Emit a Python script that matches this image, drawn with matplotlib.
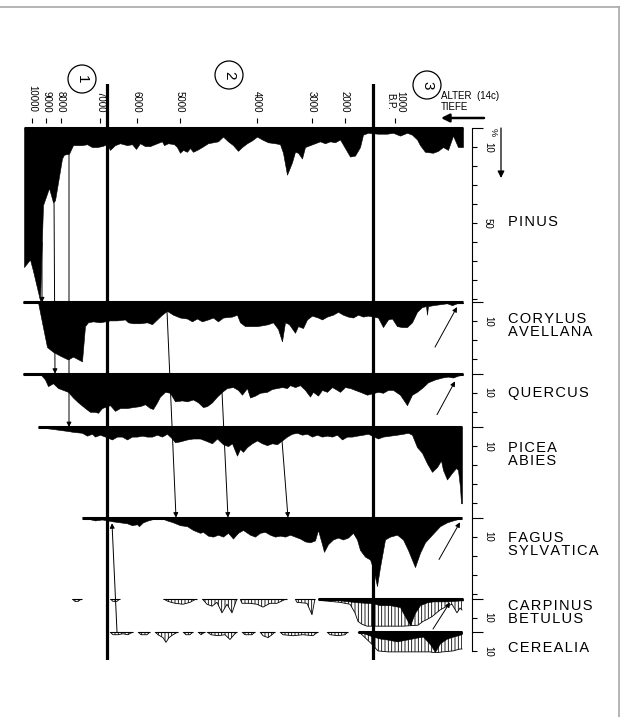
"""Pollendiagramm (Zonen 1-3) mit Tiefe/Alter als x-Achse nachzeichnen."""

import matplotlib

matplotlib.use("Agg")
import matplotlib.pyplot as plt  # noqa: E402
import numpy as np  # noqa: E402
from matplotlib.lines import Line2D  # noqa: E402
from matplotlib.patches import Circle, ConnectionPatch  # noqa: E402
from matplotlib.transforms import IdentityTransform  # noqa: E402

# --- Daten: Tiefe (cm, nach links zunehmend) und Anteil in % ---
pinus_depth = [439, 433, 430, 423, 420, 414, 410, 408, 401, 399, 394, 390, 381, 376, 371, 366,
               361, 356, 353, 348, 343, 336, 331, 327, 323, 318, 313, 306, 301, 299, 295, 289,
               286, 283, 280, 276, 273, 270, 266, 261, 255, 250, 245, 240, 235, 230, 225, 221,
               216, 211, 206, 201, 195, 188, 183, 180, 176, 171, 168, 165, 161, 158, 153, 148,
               143, 138, 133, 128, 123, 118, 113, 108, 103, 100, 95, 85, 76, 70, 63, 56, 51,
               46, 43, 38, 30, 25, 20, 15, 10, 5, 0]
pinus_pct = [73, 69, 75, 90.5, 40.5, 31.5, 39, 38, 16, 14, 13.5, 9, 9, 8.5, 10, 10,
             9.5, 8.5, 11.5, 9, 8, 9, 8.5, 11, 8, 9.5, 9.5, 8, 7, 9, 8, 8.5,
             10, 13, 11.5, 12.5, 10.5, 12.5, 11.5, 10, 8, 7.5, 7, 4.5, 7, 9, 12, 10,
             8, 6.5, 4.5, 6, 7.5, 8, 8.5, 13, 24.5, 18, 12.5, 13, 16, 10, 9, 8,
             7, 8, 7, 7.5, 6, 10.5, 15, 14.5, 10, 3.5, 2.5, 3, 3, 2.5, 4, 2.5, 3.5,
             6, 9, 12.5, 13, 12, 10, 11.5, 4, 10, 10]

corylus_depth = [440, 425, 421, 416, 410, 403, 395, 390, 381, 378, 375, 370, 363, 353, 346, 338,
                 335, 330, 323, 316, 311, 306, 301, 296, 290, 283, 276, 271, 266, 261, 255, 250,
                 245, 240, 231, 226, 223, 218, 213, 206, 200, 195, 190, 185, 181, 178, 174, 168,
                 165, 160, 156, 151, 145, 141, 136, 130, 125, 120, 115, 110, 105, 100, 95, 85,
                 80, 75, 71, 66, 61, 56, 51, 46, 41, 37, 36, 35, 30, 23, 16, 11, 6, 0]
corylus_pct = [0, 0, 10.5, 23.5, 26, 28, 30, 28.5, 31, 12.5, 10.5, 10, 10.5, 9.5, 9.5, 9,
               10.5, 11, 11, 10.5, 11.5, 9, 6.5, 4.5, 6.5, 8, 8.5, 10, 8.5, 10, 9, 8,
               10, 8, 7.5, 6.5, 10.5, 12.5, 12.5, 12.5, 12, 11.5, 10.5, 14, 20.5, 10.5, 11.5, 16,
               12.5, 13.5, 9, 7, 8, 9, 7.5, 6.5, 5, 6.5, 7.5, 8, 6.5, 7.5, 7, 8,
               13, 9, 8.5, 12.5, 13, 13, 10.5, 5, 2.5, 2, 6.5, 2, 1.5, 1, 0.5, 1.5, 0.5, 0.5]

quercus_depth = [440, 423, 418, 415, 410, 405, 400, 395, 390, 385, 378, 373, 368, 365, 361, 353,
                 348, 343, 336, 330, 323, 318, 313, 310, 306, 303, 298, 293, 288, 281, 276, 270,
                 265, 260, 256, 251, 246, 241, 236, 230, 225, 221, 216, 213, 208, 203, 196, 191,
                 186, 181, 176, 173, 168, 163, 158, 153, 150, 145, 141, 136, 131, 126, 123, 118,
                 113, 108, 103, 96, 85, 80, 75, 70, 63, 56, 51, 46, 40, 35, 28, 21, 15, 10, 5, 0]
quercus_pct = [0, 0, 3, 6.5, 5, 7.5, 8.5, 9.5, 12.5, 15, 18, 20, 20, 20.5, 18, 16.5,
               19.5, 18, 18, 17.5, 17, 16, 18, 18.5, 15, 12, 9.5, 10, 14.5, 14, 14.5, 13.5,
               15, 17.5, 17, 15, 12, 9.5, 7.5, 7, 8.5, 11, 7.5, 12.5, 11.5, 10, 9.5, 8,
               7.5, 7, 7.5, 6, 7, 6, 8.5, 12, 9.5, 11.5, 8.5, 9.5, 7, 8.5, 9.5, 7,
               7.5, 8.5, 9.5, 11, 9.5, 10, 8.5, 8.5, 11, 16.5, 11, 9.5, 7, 4.5, 3, 2, 1.5, 2, 1, 0.5]

picea_depth = [425, 410, 396, 390, 381, 376, 371, 368, 363, 358, 351, 346, 341, 336, 331, 326,
               321, 316, 311, 306, 301, 296, 291, 288, 283, 276, 270, 263, 258, 251, 246, 240,
               235, 231, 226, 223, 220, 216, 211, 206, 201, 196, 191, 186, 181, 176, 171, 166,
               161, 156, 151, 146, 141, 136, 131, 126, 121, 116, 111, 106, 100, 95, 85, 80,
               73, 66, 60, 55, 51, 46, 41, 36, 31, 26, 22, 20, 16, 11, 7, 5, 3, 2, 1]
picea_pct = [0, 1, 2, 2.5, 3, 4.5, 3.5, 5, 4, 5, 6.5, 5, 5, 6.5, 5, 5,
             4.5, 5, 5, 4, 5, 3.5, 6, 8, 7.5, 6.5, 6, 6, 7, 8.5, 6, 9,
             10, 8.5, 15, 11.5, 13, 10.5, 8.5, 7, 8.5, 9.5, 8.5, 9, 7, 5, 3.5, 3,
             4, 3.5, 5, 4, 5, 4.5, 5, 4, 6.5, 5, 5, 4.5, 4, 3.5, 6, 5,
             4.5, 4, 3.5, 3, 4, 10.5, 13.5, 19, 23.5, 21, 17.5, 22.5, 27.5, 24, 21.5, 22.5, 31.5, 40, 40]

fagus_depth = [381, 376, 368, 361, 350, 343, 336, 331, 326, 324, 320, 315, 308, 301, 296, 290,
               283, 276, 270, 263, 260, 255, 250, 245, 240, 235, 230, 225, 220, 213, 208, 203,
               198, 193, 188, 183, 178, 173, 168, 163, 158, 153, 148, 145, 141, 139, 135, 130,
               125, 120, 115, 110, 106, 103, 98, 93, 90, 86, 83, 78, 73, 66, 60, 55,
               48, 43, 38, 31, 23, 16, 10, 3, 1]
fagus_pct = [0, 0.5, 1.5, 1, 2, 2.5, 3, 4, 3.5, 4.5, 2.5, 1.5, 0.5, 0.5, 1.5, 2.5,
             4, 4.5, 6.5, 8, 7.5, 9.5, 10, 9, 10, 8, 11, 8, 6.5, 9, 10, 8,
             7.5, 9, 10, 9.5, 10, 9, 10, 11, 12.5, 13, 12, 6.5, 14, 18, 14, 11.5,
             10.5, 11.5, 10.5, 8, 11.5, 17, 20.5, 22, 26.5, 36, 26, 11.5, 10, 9, 11.5, 17,
             26, 18.5, 13, 9, 4.5, 2.5, 1.5, 0.5, 0]

carpinus_depth = [145, 123, 105, 90, 83, 73, 63, 60, 53, 48, 43, 36, 30, 16, 3, 0]
carpinus_pct = [0, 1, 2, 2.5, 3.5, 3.5, 4.5, 7.5, 14, 7.5, 3.5, 2, 1.5, 1.5, 1, 1]

cerealia_depth = [105, 98, 90, 83, 76, 66, 56, 46, 40, 33, 28, 23, 16, 10, 3, 1]
cerealia_pct = [0, 1, 2.5, 3.5, 4, 5, 4, 3, 2.5, 6.5, 10.5, 6, 3.5, 2.5, 1.5, 1]

# ueberhoehte (schraffierte) Kurven, in Abschnitten
carpinus_hatch_depth = [[391, 388, 385, 381], [353, 350, 346, 343],
                        [300, 295, 288, 280, 273, 266],
                        [261, 256, 251, 246, 241, 236, 231, 226],
                        [223, 221, 213, 206, 200, 193, 186, 180, 176],
                        [168, 166, 156, 151, 148],
                        [145, 143, 133, 123, 113, 108, 105, 101, 96, 80, 60, 45, 40, 36, 31,
                         23, 16, 11, 6, 3, 1]]
carpinus_hatch_pct = [[0, 1.5, 1.5, 0], [0, 1.5, 1.5, 0],
                      [0, 1.5, 2.5, 3, 2, 0],
                      [0, 3, 4, 2, 7.5, 3, 7.5, 0],
                      [0, 2.5, 2.5, 3, 4.5, 2.5, 2.5, 1, 0],
                      [0, 2, 2.5, 8.5, 0],
                      [0, 1, 1.5, 2, 3, 7.5, 12, 13.5, 14.5, 14.5, 14.5, 14, 12, 11, 9.5,
                       6, 4, 3, 7.5, 5, 6]]

cerealia_hatch_depth = [[353, 350, 345, 340, 335, 330], [325, 322, 316, 313],
                        [308, 305, 300, 297, 294, 290, 285], [280, 277, 273, 270],
                        [265, 262, 258], [256, 252, 245, 238, 233, 229, 226],
                        [221, 218, 211, 208], [203, 200, 195, 191, 188],
                        [183, 180, 170, 160, 150, 145], [136, 133, 125, 118, 115],
                        [105, 102, 98, 92, 85, 75, 60, 45, 33, 28, 20, 10, 3, 1]]
cerealia_hatch_pct = [[0, 1.5, 1.5, 1, 1.5, 0], [0, 1.5, 1.5, 0],
                      [0, 1.5, 3, 5.5, 3, 1.5, 0], [0, 1.5, 1.5, 0],
                      [0, 1.5, 0], [0, 1.5, 2, 1.5, 4, 1.5, 0],
                      [0, 1.5, 1.5, 0], [0, 2, 3, 1.5, 0],
                      [0, 1.5, 2, 1.5, 2, 0], [0, 1.5, 2, 1.5, 0],
                      [0, 1, 3, 6, 10, 10.5, 10.5, 10.5, 10.5, 11, 10.5, 10, 9, 9]]

taxa = ["PINUS", "CORYLUS", "QUERCUS", "PICEA", "FAGUS", "CARPINUS", "CEREALIA"]
taxa_labels = ["PINUS", "CORYLUS\nAVELLANA", "QUERCUS", "PICEA\nABIES", "FAGUS\nSYLVATICA",
               "CARPINUS\nBETULUS", "CEREALIA"]
taxa_range = [91.5, 37.5, 28, 47.5, 42.5, 17.5, 11]

age_labels = ["10000", "9000", "8000", "7000", "6000", "5000", "4000", "3000", "2000", "1000\nB.P."]
age_depth = [431, 417, 402, 363, 326, 283, 206, 151, 118, 68]
zone_depth = [356, 90]
zone_names = ["1", "2", "3"]

# Einwanderungspfeile: (von Taxon, Tiefe, %) -> (nach Taxon, Tiefe, %)
arrows = [
    ("PINUS", 421, 60, "CORYLUS", 421, 0),
    ("PINUS", 409, 36, "QUERCUS", 408, 0),
    ("PINUS", 394, 13.5, "PICEA", 394, 0),
    ("CORYLUS", 296, 4.5, "FAGUS", 287, 0),
    ("QUERCUS", 241, 9.5, "FAGUS", 235, 0),
    ("PICEA", 181, 7, "FAGUS", 175, 0),
    ("CEREALIA", 346, 0, "FAGUS", 351, 3),
    ("CORYLUS", 28, 23.5, "CORYLUS", 6, 2.5),
    ("QUERCUS", 26, 21.5, "QUERCUS", 8, 4),
    ("FAGUS", 24, 22, "FAGUS", 3, 2.5),
    ("CARPINUS", 30, 16, "CARPINUS", 13, 2),
]

# --- Layout (Pixel) ---
W, H = 624, 717
X_LEFT, X_RIGHT = 20, 472
XLIM = (443, -9)
TOP = 128
PX_PER_PCT = 1.905
label_y = [222, 325.5, 393, 454.5, 544.5, 612.5, 648]
circle_xy = [(82, 79), (229, 75), (427, 85)]


def fx(px):
    return px / W


def fy(py):
    return 1 - py / H


def spaced(text):
    # gesperrter Satz wie im Original
    return "\n".join("\u200a".join(line) for line in text.split("\n"))


def main() -> None:
    plt.rcParams["font.family"] = ["Liberation Sans", "DejaVu Sans"]
    plt.rcParams["hatch.linewidth"] = 0.6
    fig = plt.figure(figsize=(W / 100, H / 100), dpi=100)

    solid = {
        "PINUS": (pinus_depth, pinus_pct),
        "CORYLUS": (corylus_depth, corylus_pct),
        "QUERCUS": (quercus_depth, quercus_pct),
        "PICEA": (picea_depth, picea_pct),
        "FAGUS": (fagus_depth, fagus_pct),
        "CARPINUS": (carpinus_depth, carpinus_pct),
        "CEREALIA": (cerealia_depth, cerealia_pct),
    }
    hatched = {
        "CARPINUS": (carpinus_hatch_depth, carpinus_hatch_pct),
        "CEREALIA": (cerealia_hatch_depth, cerealia_hatch_pct),
    }

    axes = {}
    top = TOP
    for name, rng in zip(taxa, taxa_range):
        h = rng * PX_PER_PCT
        ax = fig.add_axes([fx(X_LEFT), fy(top + h), fx(X_RIGHT) - fx(X_LEFT), h / H])
        ax.patch.set_visible(False)
        ax.set_xlim(*XLIM)
        ax.set_ylim(rng, 0)
        for s in ["top", "bottom", "left"]:
            ax.spines[s].set_visible(False)
        ax.spines["right"].set_linewidth(0.8)
        ax.spines["right"].set_bounds(0, min(rng, 10) if name == "CEREALIA" else rng)
        ax.set_xticks([])
        ax.yaxis.tick_right()
        ticks = np.arange(10, rng + 0.01, 10)
        labels = ["10" if t == 10 else ("50" if (t == 50 and name == "PINUS") else "") for t in ticks]
        ax.set_yticks(ticks)
        ax.set_yticklabels(labels, rotation=-90, va="center", fontsize=7)
        ax.set_yticks([0], minor=True)
        ax.tick_params(axis="y", which="major", length=3.8, width=0.8, pad=4)
        ax.tick_params(axis="y", which="minor", length=8, width=0.8)

        if name in hatched:
            for d, p in zip(*hatched[name]):
                ax.fill_between(d, p, 0, facecolor="none", edgecolor="k", hatch="|||||", lw=0)
                ax.plot(d, p, color="k", lw=0.6)
                ax.hlines(0, min(d), max(d), color="k", lw=0.8, clip_on=False)

        d, p = solid[name]
        ax.fill_between(d, p, 0, color="k", lw=0.4)
        ax.hlines(0, min(d), max(d), color="k", lw=2.2, clip_on=False)
        axes[name] = ax
        top += h

    for a, d1, p1, b, d2, p2 in arrows:
        cp = ConnectionPatch(xyA=(d1, p1), coordsA=axes[a].transData,
                             xyB=(d2, p2), coordsB=axes[b].transData,
                             arrowstyle="-|>", mutation_scale=7, lw=0.7, color="k",
                             shrinkA=0, shrinkB=0)
        fig.add_artist(cp)

    # Zonengrenzen
    ax_zone = fig.add_axes([fx(X_LEFT), fy(660), fx(X_RIGHT) - fx(X_LEFT), (660 - 84) / H])
    ax_zone.set_xlim(*XLIM)
    ax_zone.axis("off")
    for z in zone_depth:
        ax_zone.axvline(z, color="k", lw=2.3)

    # Altersachse oben
    ax_age = fig.add_axes([fx(X_LEFT), fy(123), fx(X_RIGHT) - fx(X_LEFT), 1e-4])
    ax_age.patch.set_visible(False)
    ax_age.set_xlim(*XLIM)
    ax_age.set_yticks([])
    for s in ax_age.spines.values():
        s.set_visible(False)
    ax_age.xaxis.tick_top()
    ax_age.set_xticks(age_depth)
    ax_age.set_xticklabels(age_labels, rotation=-90, fontsize=7, linespacing=1.0)
    ax_age.tick_params(axis="x", direction="out", length=3.6, width=0.8, pad=4)

    for (cx, cy), n in zip(circle_xy, zone_names):
        fig.add_artist(Circle((cx, H - cy), 14, transform=IdentityTransform(),
                              fill=False, lw=0.9, color="k"))
        fig.text(fx(cx), fy(cy), n, rotation=-90, ha="center", va="center", fontsize=11)

    fig.text(fx(441), fy(96), "ALTER  (14c)", fontsize=7, va="center")
    fig.text(fx(441), fy(107), "TIEFE", fontsize=7, va="center")
    ax_age.annotate("", xy=(441, H - 118), xytext=(484, H - 118), xycoords="figure pixels",
                    arrowprops=dict(arrowstyle="-|>", lw=1.8, color="k", mutation_scale=12,
                                    shrinkA=0, shrinkB=0))
    ax_age.annotate("", xy=(501, H - 178), xytext=(501, H - 128), xycoords="figure pixels",
                    arrowprops=dict(arrowstyle="-|>", lw=0.9, color="k", mutation_scale=10,
                                    shrinkA=0, shrinkB=0))
    fig.text(fx(493), fy(132), "%", rotation=-90, fontsize=6.5, ha="center", va="center")

    for lab, y in zip(taxa_labels, label_y):
        fig.text(fx(508), fy(y), spaced(lab), fontsize=10.5, va="center", linespacing=0.95)

    # grauer Rahmen
    fig.add_artist(Line2D([0, fx(619)], [fy(7), fy(7)], transform=fig.transFigure,
                          color="#a8a8a8", lw=1.2))
    fig.add_artist(Line2D([fx(619), fx(619)], [fy(7), 0], transform=fig.transFigure,
                          color="#a8a8a8", lw=1.2))

    fig.savefig("out.png", dpi=100)


if __name__ == "__main__":
    main()
